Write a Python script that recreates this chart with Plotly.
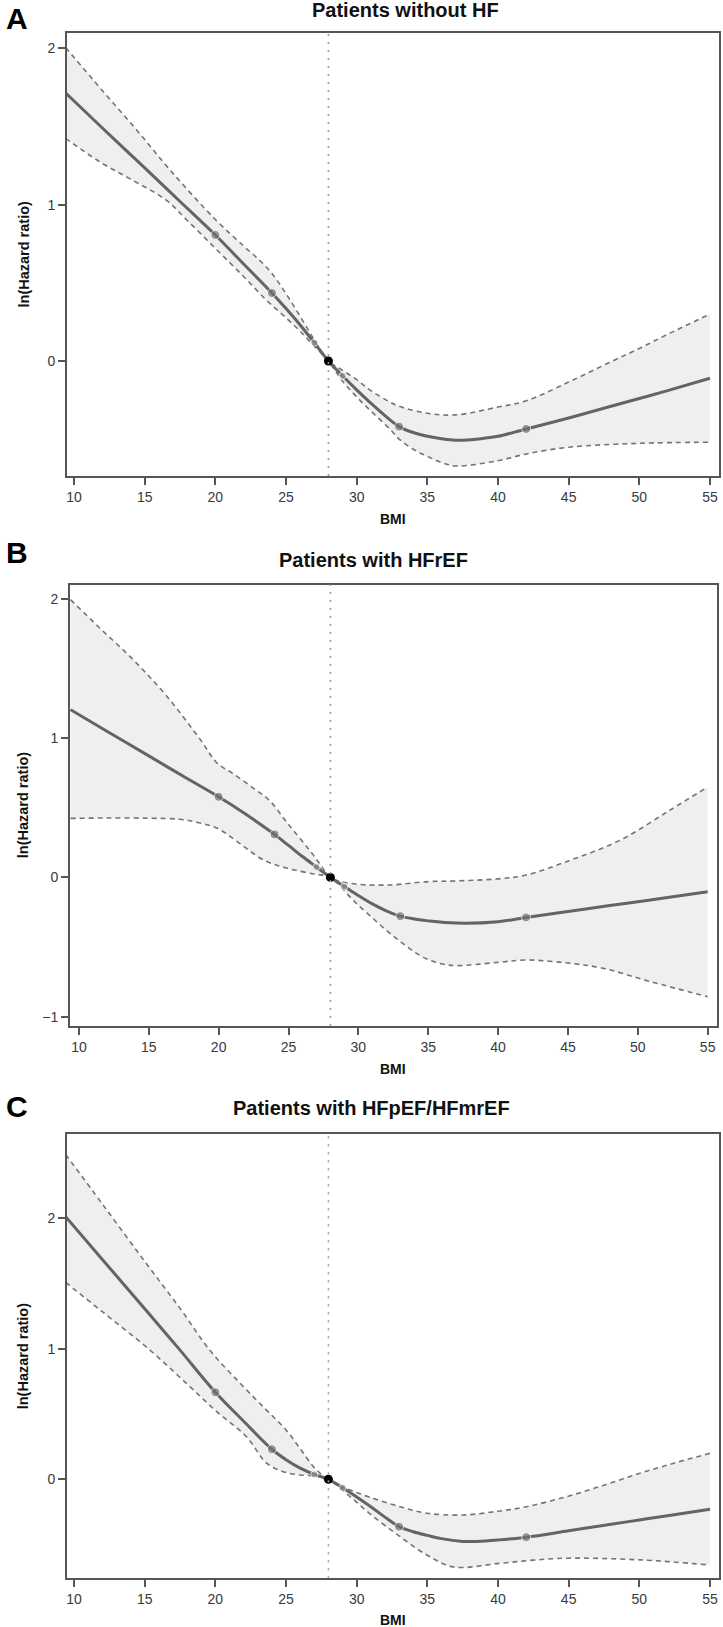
import plotly.graph_objects as go

# ---------------- data ----------------
x_ticks = [10, 15, 20, 25, 30, 35, 40, 45, 50, 55]
marker_x = [20, 24, 27, 29, 33, 42]
ref_x = 28

titles = ["Patients without HF", "Patients with HFrEF", "Patients with HFpEF/HFmrEF"]
letters = ["A", "B", "C"]
y_ticks_A = [0, 1, 2]
y_ticks_B = [-1, 0, 1, 2]
y_ticks_C = [0, 1, 2]

A_est_x = [9.4, 12, 15, 17.5, 20, 22, 24, 25, 26, 27, 28, 29, 30, 31, 32, 33, 34, 35, 37, 39, 40, 42, 45, 48, 50, 52, 55]
A_est_y = [1.715, 1.49, 1.235, 1.02, 0.806, 0.62, 0.435, 0.335, 0.23, 0.117, 0.0, -0.095, -0.185, -0.27, -0.35, -0.42,
           -0.458, -0.482, -0.507, -0.495, -0.482, -0.435, -0.365, -0.29, -0.24, -0.19, -0.111]
A_up_x = [9.4, 12, 14.5, 17, 20, 22, 23, 24, 25, 26, 27, 28, 29, 30, 31, 32.4, 33, 35, 37, 40, 42, 45, 48, 50, 52, 55]
A_up_y = [2.005, 1.73, 1.47, 1.2, 0.905, 0.735, 0.655, 0.56, 0.43, 0.285, 0.135, 0.0, -0.06, -0.12, -0.19, -0.265,
          -0.29, -0.335, -0.345, -0.295, -0.255, -0.135, -0.005, 0.08, 0.17, 0.30]
A_lo_x = [9.4, 11.8, 14, 16.5, 18, 20, 22, 23.6, 25, 26, 27, 28, 29, 30, 31, 32.4, 33, 34, 35, 36, 37, 40, 42, 45, 50, 55]
A_lo_y = [1.424, 1.275, 1.163, 1.03, 0.90, 0.72, 0.54, 0.39, 0.276, 0.19, 0.095, 0.0, -0.13, -0.23, -0.32, -0.44,
          -0.5, -0.565, -0.61, -0.65, -0.672, -0.638, -0.595, -0.552, -0.527, -0.52]

B_est_x = [9.4, 12, 15, 17.5, 20, 22, 24, 25, 26, 27, 28, 29, 30, 31, 32, 33, 34, 35, 37, 40, 42, 45, 48, 50, 52, 55]
B_est_y = [1.205, 1.05, 0.873, 0.725, 0.579, 0.45, 0.309, 0.23, 0.15, 0.075, 0.0, -0.065, -0.13, -0.19, -0.24, -0.278,
           -0.298, -0.312, -0.328, -0.318, -0.287, -0.245, -0.202, -0.174, -0.146, -0.103]
B_up_x = [9.4, 11.5, 13.9, 16.3, 18.7, 19.9, 21, 22.5, 23.6, 25, 26.5, 27.3, 28, 29.4, 32, 35, 37, 40, 42, 45.2, 48.75,
          52.3, 55]
B_up_y = [1.995, 1.79, 1.562, 1.30, 0.988, 0.82, 0.748, 0.64, 0.557, 0.38, 0.197, 0.09, 0.0, -0.042, -0.055, -0.03,
          -0.025, -0.01, 0.017, 0.125, 0.268, 0.483, 0.65]
B_lo_x = [9.4, 12, 15, 17.2, 18.5, 19.9, 21.5, 23.2, 24.9, 26.8, 28, 29.4, 30, 31, 32, 33, 34, 35, 36, 37, 40, 42, 45,
          47.5, 50.9, 55]
B_lo_y = [0.424, 0.427, 0.425, 0.418, 0.395, 0.353, 0.245, 0.126, 0.066, 0.025, 0.0, -0.14, -0.2, -0.29, -0.38, -0.46,
          -0.535, -0.59, -0.622, -0.633, -0.61, -0.593, -0.615, -0.652, -0.748, -0.856]

C_est_x = [9.4, 12, 15, 17.5, 20, 22, 24, 25, 26, 27, 28, 29, 30, 31, 32, 33, 34, 35, 36, 37.5, 38.5, 40, 42, 45, 48,
           50, 52, 55]
C_est_y = [2.013, 1.685, 1.307, 0.99, 0.667, 0.445, 0.23, 0.15, 0.085, 0.037, 0.0, -0.065, -0.135, -0.21, -0.29, -0.363,
           -0.402, -0.43, -0.455, -0.476, -0.476, -0.465, -0.444, -0.395, -0.345, -0.312, -0.279, -0.23]
C_up_x = [9.4, 12, 15, 17.5, 19.6, 21.75, 23.5, 25, 26, 27.05, 28, 29.53, 31, 33.07, 34.96, 37.5, 40, 42.03, 44.86,
          47.5, 50.05, 52.5, 55]
C_up_y = [2.49, 2.11, 1.67, 1.31, 0.99, 0.736, 0.543, 0.378, 0.235, 0.084, 0.0, -0.082, -0.14, -0.21, -0.26, -0.274,
          -0.245, -0.21, -0.133, -0.045, 0.046, 0.125, 0.199]
C_lo_x = [9.4, 12, 15.37, 18, 20.1, 22.2, 23.63, 24.81, 26.0, 27.17, 28, 29.53, 31, 33.07, 34.96, 36.84, 40.14, 42.5,
          44.86, 50.05, 55]
C_lo_y = [1.51, 1.284, 0.99, 0.73, 0.518, 0.326, 0.123, 0.058, 0.033, 0.025, 0.0, -0.133, -0.27, -0.44, -0.58, -0.672,
          -0.644, -0.62, -0.605, -0.618, -0.657]

# ---------------- layout geometry (pixels) ----------------
W, H = 723, 1627
panels = [
    dict(est=(A_est_x, A_est_y), up=(A_up_x, A_up_y), lo=(A_lo_x, A_lo_y), yt=y_ticks_A,
         box=(67, 719, 33, 476), xr=[9.5, 55.64], yr=[-0.736, 2.098],
         title_x=310, title_y=10, letter_y=18, bmi_y=519),
    dict(est=(B_est_x, B_est_y), up=(B_up_x, B_up_y), lo=(B_lo_x, B_lo_y), yt=y_ticks_B,
         box=(70, 717, 584.5, 1026), xr=[9.36, 55.67], yr=[-1.067, 2.104],
         title_x=277, title_y=560, letter_y=552, bmi_y=1069),
    dict(est=(C_est_x, C_est_y), up=(C_up_x, C_up_y), lo=(C_lo_x, C_lo_y), yt=y_ticks_C,
         box=(67, 719, 1134.3, 1578.3), xr=[9.5, 55.64], yr=[-0.759, 2.644],
         title_x=231, title_y=1108, letter_y=1106, bmi_y=1620),
]

def px(x):
    return x / W

def py(y):
    return 1 - y / H

FONT = "Liberation Sans, Arial, sans-serif"
LINE_C = "#646464"
CI_C = "#747474"
FILL_C = "#efefef"
FRAME_C = "#555555"

fig = go.Figure()
annotations = []
shapes = []

for i, p in enumerate(panels):
    n = "" if i == 0 else str(i + 1)
    xa, ya = "x" + n, "y" + n
    ux, uy = p["up"]
    lx, ly = p["lo"]
    ex, ey = p["est"]
    fig.add_trace(go.Scatter(x=ux, y=uy, mode="lines", xaxis=xa, yaxis=ya, showlegend=False,
                             line=dict(color=CI_C, width=1.6, dash="5px,4px", shape="spline", smoothing=1)))
    fig.add_trace(go.Scatter(x=lx, y=ly, mode="lines", xaxis=xa, yaxis=ya, showlegend=False,
                             fill="tonexty", fillcolor=FILL_C,
                             line=dict(color=CI_C, width=1.6, dash="5px,4px", shape="spline", smoothing=1)))
    fig.add_trace(go.Scatter(x=ex, y=ey, mode="lines", xaxis=xa, yaxis=ya, showlegend=False,
                             line=dict(color=LINE_C, width=3, shape="spline", smoothing=1)))
    lookup = dict(zip(ex, ey))
    fig.add_trace(go.Scatter(x=marker_x, y=[lookup[m] for m in marker_x], mode="markers", xaxis=xa, yaxis=ya,
                             showlegend=False,
                             marker=dict(color=["#707070", "#707070", "#8e8e8e", "#8e8e8e", "#707070", "#707070"],
                                         size=[9, 9, 7, 7, 9, 9])))
    fig.add_trace(go.Scatter(x=[ref_x], y=[lookup[ref_x]], mode="markers", xaxis=xa, yaxis=ya, showlegend=False,
                             marker=dict(color="#000000", size=9)))

    l, r, t, b = p["box"]
    axis_common = dict(showgrid=False, zeroline=False, showline=True, linecolor=FRAME_C, linewidth=2,
                       mirror=True, ticks="outside", ticklen=7, tickwidth=1.5, tickcolor=FRAME_C,
                       tickfont=dict(family=FONT, size=14, color="#3a3a3a"))
    fig.update_layout(**{
        "xaxis" + n: dict(domain=[px(l), px(r)], range=p["xr"], tickvals=x_ticks, anchor=ya, **axis_common),
        "yaxis" + n: dict(domain=[py(b), py(t)], range=p["yr"], tickvals=p["yt"], anchor=xa, **axis_common),
    })

    shapes.append(dict(type="line", xref=xa, yref=ya + " domain", x0=ref_x, x1=ref_x, y0=0, y1=1, layer="above",
                       line=dict(color="#9a9a9a", width=1.5, dash="2px,6px")))

    annotations.append(dict(text=titles[i], x=px(p["title_x"]), y=py(p["title_y"]), xref="paper", yref="paper",
                            xanchor="left", yanchor="middle", showarrow=False,
                            font=dict(family=FONT, size=20, color="#111111", weight="bold")))
    annotations.append(dict(text=letters[i], x=px(4), y=py(p["letter_y"]), xref="paper", yref="paper",
                            xanchor="left", yanchor="middle", showarrow=False,
                            font=dict(family=FONT, size=30, color="#000000", weight="bold")))
    annotations.append(dict(text="BMI", x=px((l + r) / 2), y=py(p["bmi_y"]), xref="paper", yref="paper",
                            xanchor="center", yanchor="middle", showarrow=False,
                            font=dict(family=FONT, size=14, color="#111111", weight="bold")))
    annotations.append(dict(text="ln(Hazard ratio)", x=px(23), y=py((t + b) / 2), xref="paper", yref="paper",
                            xanchor="center", yanchor="middle", showarrow=False, textangle=-90,
                            font=dict(family=FONT, size=14.5, color="#111111", weight="bold")))

fig.update_layout(width=W, height=H, margin=dict(l=0, r=0, t=0, b=0),
                  paper_bgcolor="white", plot_bgcolor="white",
                  annotations=annotations, shapes=shapes, showlegend=False)

fig.write_html("out.html")
